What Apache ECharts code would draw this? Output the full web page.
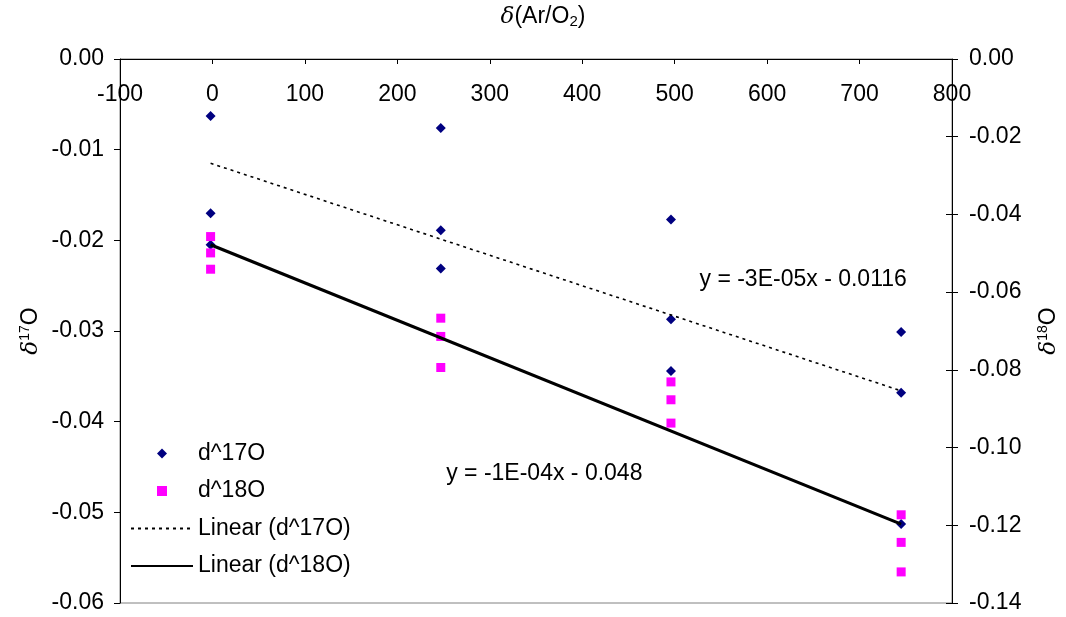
<!DOCTYPE html>
<html>
<head>
<meta charset="utf-8">
<script src="https://cdn.jsdelivr.net/npm/echarts@6/dist/echarts.min.js"></script>
<style>
html,body{margin:0;padding:0;background:#fff;}
#chart{width:1066px;height:617px;}
</style>
</head>
<body>
<div id="chart"></div>
<script>
// ---- data ----
var xTickLabels = ['-100','0','100','200','300','400','500','600','700','800'];
var leftTickLabels = ['0.00','-0.01','-0.02','-0.03','-0.04','-0.05','-0.06'];
var rightTickLabels = ['0.00','-0.02','-0.04','-0.06','-0.08','-0.10','-0.12','-0.14'];

var d17O = [
  [-2,-0.0063],[-2,-0.0170],[-2,-0.0205],
  [247,-0.0076],[247,-0.0189],[247,-0.0231],
  [496,-0.0177],[496,-0.0287],[496,-0.0344],
  [745,-0.0301],[745,-0.0368],[745,-0.0513]
];
var d18O = [
  [-2,-0.0457],[-2,-0.0499],[-2,-0.0541],
  [247,-0.0667],[247,-0.0714],[247,-0.0794],
  [496,-0.0831],[496,-0.0877],[496,-0.0937],
  [745,-0.1173],[745,-0.1244],[745,-0.1320]
];
var trend17 = [[-2,-0.0115],[745,-0.0366]];
var trend18 = [[-2,-0.0478],[745,-0.1197]];
var eq17 = {text:'y = -3E-05x - 0.0116', pos:[639,-0.0243]};
var eq18 = {text:'y = -1E-04x - 0.048', pos:[359,-0.0457]};

var FONT = 'Liberation Sans, Arial, sans-serif';
var FS = 23;

var chart = echarts.init(document.getElementById('chart'), null, {renderer:'canvas'});
var option = {
  animation:false,
  backgroundColor:'#fff',
  textStyle:{fontFamily:FONT},
  grid:{left:120, right:114, top:59, bottom:14, show:true, borderColor:'#808080', borderWidth:1, backgroundColor:'transparent'},
  xAxis:{
    type:'value', position:'top', min:-100, max:800, interval:100,
    axisLine:{show:true, onZero:false, lineStyle:{color:'#000', width:1}},
    axisTick:{show:true, inside:true, length:5, lineStyle:{color:'#000'}},
    axisLabel:{inside:true, margin:24, color:'#000', fontSize:FS, fontFamily:FONT,
      formatter:function(v){ var i=Math.round((v+100)/100); return xTickLabels[i]!==undefined?xTickLabels[i]:''; }},
    splitLine:{show:false}
  },
  yAxis:[
    {type:'value', position:'left', min:-0.06, max:0, interval:0.01,
      axisLine:{show:true, onZero:false, lineStyle:{color:'#000'}},
      axisTick:{show:true, length:6, lineStyle:{color:'#000'}},
      axisLabel:{margin:16, color:'#000', fontSize:FS, fontFamily:FONT,
        formatter:function(v){ var i=Math.round(-v/0.01); return leftTickLabels[i]||''; }},
      splitLine:{show:false}},
    {type:'value', position:'right', min:-0.14, max:0, interval:0.02,
      axisLine:{show:true, onZero:false, lineStyle:{color:'#000'}},
      axisTick:{show:true, length:6, lineStyle:{color:'#000'}},
      axisLabel:{margin:17, color:'#000', fontSize:FS, fontFamily:FONT,
        formatter:function(v){ var i=Math.round(-v/0.02); return rightTickLabels[i]||''; }},
      splitLine:{show:false}},
    {type:'value', position:'right', min:-0.14, max:0, interval:0.02,
      axisLine:{show:false, onZero:false}, axisTick:{show:true, inside:true, length:6, lineStyle:{color:'#000'}},
      axisLabel:{show:false}, splitLine:{show:false}}
  ],
  legend:{
    orient:'vertical', left:130, top:442, padding:0, itemWidth:62, itemHeight:10, itemGap:14.5,
    textStyle:{fontSize:FS, color:'#000', fontFamily:FONT},
    data:[
      {name:'d^17O', icon:'path://M0,-1L1,0L0,1L-1,0Z'},
      {name:'d^18O', icon:'path://M0,0L1,0L1,1L0,1Z'},
      {name:'Linear (d^17O)', itemStyle:{color:'rgba(0,0,0,0)', borderWidth:0, opacity:0}},
      {name:'Linear (d^18O)', itemStyle:{color:'rgba(0,0,0,0)', borderWidth:0, opacity:0}}
    ]
  },
  series:[
    {name:'d^17O', type:'scatter', yAxisIndex:0, data:d17O, symbol:'diamond', symbolSize:10,
      itemStyle:{color:'#000080', opacity:1}, z:2},
    {name:'d^18O', type:'scatter', yAxisIndex:1, data:d18O, symbol:'rect', symbolSize:9,
      itemStyle:{color:'#FF00FF', opacity:1}, z:2},
    {name:'Linear (d^17O)', type:'line', yAxisIndex:0, data:trend17, symbol:'none',
      lineStyle:{color:'#000', width:1.6, type:[3,4]}, itemStyle:{color:'#000'}, z:3},
    {name:'Linear (d^18O)', type:'line', yAxisIndex:1, data:trend18, symbol:'none',
      lineStyle:{color:'#000', width:3.2, type:'solid'}, itemStyle:{color:'#000'}, z:3},
    {name:'eq', type:'scatter', yAxisIndex:0, symbolSize:0, silent:true,
      itemStyle:{opacity:1},
      data:[{value:eq17.pos, label:{formatter:eq17.text}},{value:eq18.pos, label:{formatter:eq18.text}}],
      label:{show:true, position:'inside', color:'#000', opacity:1, fontSize:FS, fontFamily:FONT}, z:4}
  ],
  graphic:[
    {type:'text', x:543, y:17, style:{
      text:'{d|δ}(Ar/O{s|2})', font:FS+'px '+FONT, fill:'#000', align:'center', verticalAlign:'middle',
      rich:{d:{fontStyle:'italic', fontSize:FS, fontFamily:'DejaVu Serif'}, s:{fontSize:15, padding:[10,0,0,0]}}
    }},
    {type:'text', x:31, y:331, rotation:Math.PI/2, style:{
      text:'{d|δ}{s|17}O', font:FS+'px '+FONT, fill:'#000', align:'center', verticalAlign:'middle',
      rich:{d:{fontStyle:'italic', fontSize:FS, fontFamily:'DejaVu Serif'}, s:{fontSize:14, padding:[0,0,11,0]}}
    }},
    {type:'text', x:1049, y:331, rotation:Math.PI/2, style:{
      text:'{d|δ}{s|18}O', font:FS+'px '+FONT, fill:'#000', align:'center', verticalAlign:'middle',
      rich:{d:{fontStyle:'italic', fontSize:FS, fontFamily:'DejaVu Serif'}, s:{fontSize:14, padding:[0,0,11,0]}}
    }}
  ]
};
chart.setOption(option);
</script>
</body>
</html>
